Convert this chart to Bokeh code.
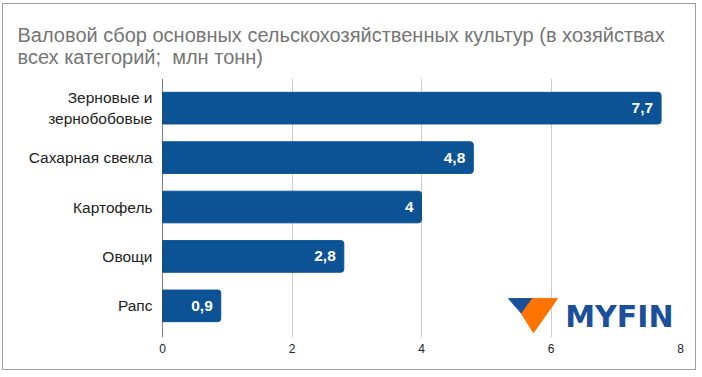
from bokeh.plotting import figure
from bokeh.models import Range1d, Span, FixedTicker, Title, ColumnDataSource
from bokeh.core.properties import value
from bokeh.embed import file_html
from bokeh.resources import INLINE

categories = ["\u00a0\u00a0\u00a0\u00a0\u00a0Зерновые и\nзернобобовые", "Сахарная свекла", "Картофель", "Овощи", "Рапс"]
values = [7.7, 4.8, 4.0, 2.8, 0.9]
value_labels = ["7,7", "4,8", "4", "2,8", "0,9"]
x_ticks = [0, 2, 4, 6, 8]
title_text = "Валовой сбор основных сельскохозяйственных культур (в хозяйствах\nвсех категорий;\u00a0 млн тонн)"

pos = list(range(len(categories)))

p = figure(width=694, height=367, output_backend="svg", toolbar_location=None,
           x_range=Range1d(0, 8), y_range=Range1d(4.64, -0.6),
           min_border_left=159, min_border_right=17, min_border_top=74, min_border_bottom=34,
           styles={"border": "1px solid #9e9e9e", "margin-left": "2px", "margin-top": "3px"})
p.title = None
t = Title(text=title_text, align="left", offset=-145, text_color="#757575",
          text_font="Liberation Sans", text_font_size="20px", text_font_style="normal",
          standoff=21)
p.add_layout(t, "above")

src = ColumnDataSource(dict(y=pos, v=values, lab=value_labels))
p.hbar(y="y", left=0, right="v", height=0.64, source=src, color="#0b5394",
       border_radius=(0, 3, 3, 0))
p.text(x="v", y="y", text="lab", source=src, x_offset=-8, text_align="right",
       text_baseline="middle", text_color="white", text_font=value("Liberation Sans"),
       text_font_size="15.5px", text_font_style="bold")

p.add_layout(Span(location=0, dimension="height", line_color="#000000", line_width=1))

# logo
p.patch(x=[5.344, 5.730, 5.560], y=[3.853, 3.853, 4.177], color="#1a4f9c")
p.patch(x=[5.714, 6.100, 5.730, 5.544], y=[3.853, 3.853, 4.542, 4.157], color="#ff7300")
p.text(x=[6.22], y=[4.22], text=["MYFIN"], text_baseline="middle", text_align="left",
       text_color="#1a4f9c", text_font=value("DejaVu Sans"), text_font_size="30px",
       text_font_style="bold")

p.xaxis.ticker = FixedTicker(ticks=x_ticks)
p.xaxis.axis_line_color = None
p.xaxis.major_tick_line_color = None
p.xaxis.minor_tick_line_color = None
p.xaxis.major_label_text_font = "Liberation Sans"
p.xaxis.major_label_text_font_size = "12px"
p.xaxis.major_label_text_color = "#222222"
p.xaxis.major_label_standoff = 0

p.yaxis.ticker = FixedTicker(ticks=pos)
p.yaxis.major_label_overrides = {i: c for i, c in zip(pos, categories)}
p.yaxis.axis_line_color = None
p.yaxis.major_tick_line_color = None
p.yaxis.minor_tick_line_color = None
p.yaxis.major_label_text_font = "Liberation Sans"
p.yaxis.major_label_text_font_size = "15.5px"
p.yaxis.major_label_text_color = "#222222"
p.yaxis.major_label_standoff = 4

p.xgrid.ticker = FixedTicker(ticks=x_ticks)
p.xgrid.grid_line_color = "#cccccc"
p.ygrid.grid_line_color = None
p.outline_line_color = None

open("out.html", "w").write(file_html(p, INLINE))
